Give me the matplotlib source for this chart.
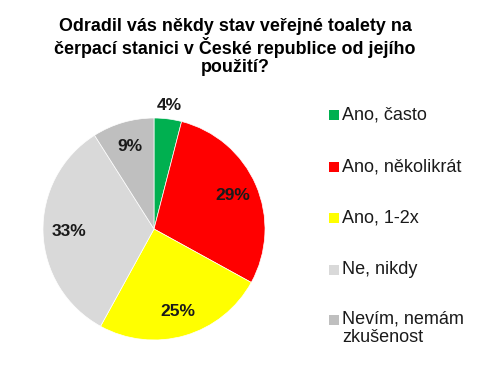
import matplotlib
matplotlib.use("Agg")
import matplotlib.pyplot as plt
from matplotlib.patches import Rectangle
import numpy as np

title = "Odradil vás někdy stav veřejné toalety na\nčerpací stanici v České republice od jejího\npoužití?"
categories = ["Ano, často", "Ano, několikrát", "Ano, 1-2x", "Ne, nikdy", "Nevím, nemám\nzkušenost"]
values = [4, 29, 25, 33, 9]
colors = ["#00b050", "#ff0000", "#ffff00", "#d9d9d9", "#bfbfbf"]

plt.rcParams['font.family'] = ['Liberation Sans', 'DejaVu Sans']

W, H = 479, 374
fig = plt.figure(figsize=(W / 100, H / 100), dpi=100)

cx, cy, r = 154, 229, 111
ax = fig.add_axes([(cx - r) / W, 1 - (cy + r) / H, 2 * r / W, 2 * r / H])
wedges, texts, autotexts = ax.pie(values, colors=colors, startangle=90, counterclock=False,
                                  autopct=lambda p: f"{p:.0f}%", pctdistance=0.77,
                                  wedgeprops=dict(edgecolor="white", linewidth=0.5),
                                  textprops=dict(fontsize=12.5, fontweight="bold", color="#1a1a1a"))
# small first slice label sits outside the pie
t0 = autotexts[0]
x0, y0 = t0.get_position()
d = np.hypot(x0, y0)
t0.set_position((x0 / d * 1.12, y0 / d * 1.12))
ax.set_xlim(-1, 1)
ax.set_ylim(-1, 1)
ax.set_aspect("equal")
ax.axis("off")

fig.text(235 / W, 1 - 47 / H, title, ha="center", va="center", fontsize=12.9,
         fontweight="bold", linespacing=1.1)

# legend
leg_y = [115, 167, 218, 270, 320]
for i, (lab, col) in enumerate(zip(categories, colors)):
    y = leg_y[i]
    fig.add_artist(Rectangle((329 / W, 1 - (y + 5) / H), 10 / W, 10 / H,
                             transform=fig.transFigure, facecolor=col, edgecolor="none"))
    if "\n" in lab:
        fig.text(342 / W, 1 - (y - 10) / H, lab, ha="left", va="top",
                 fontsize=13, color="#1a1a1a", linespacing=1.15)
    else:
        fig.text(342 / W, 1 - y / H, lab, ha="left", va="center",
                 fontsize=13, color="#1a1a1a")

fig.savefig("out.png", dpi=100)
